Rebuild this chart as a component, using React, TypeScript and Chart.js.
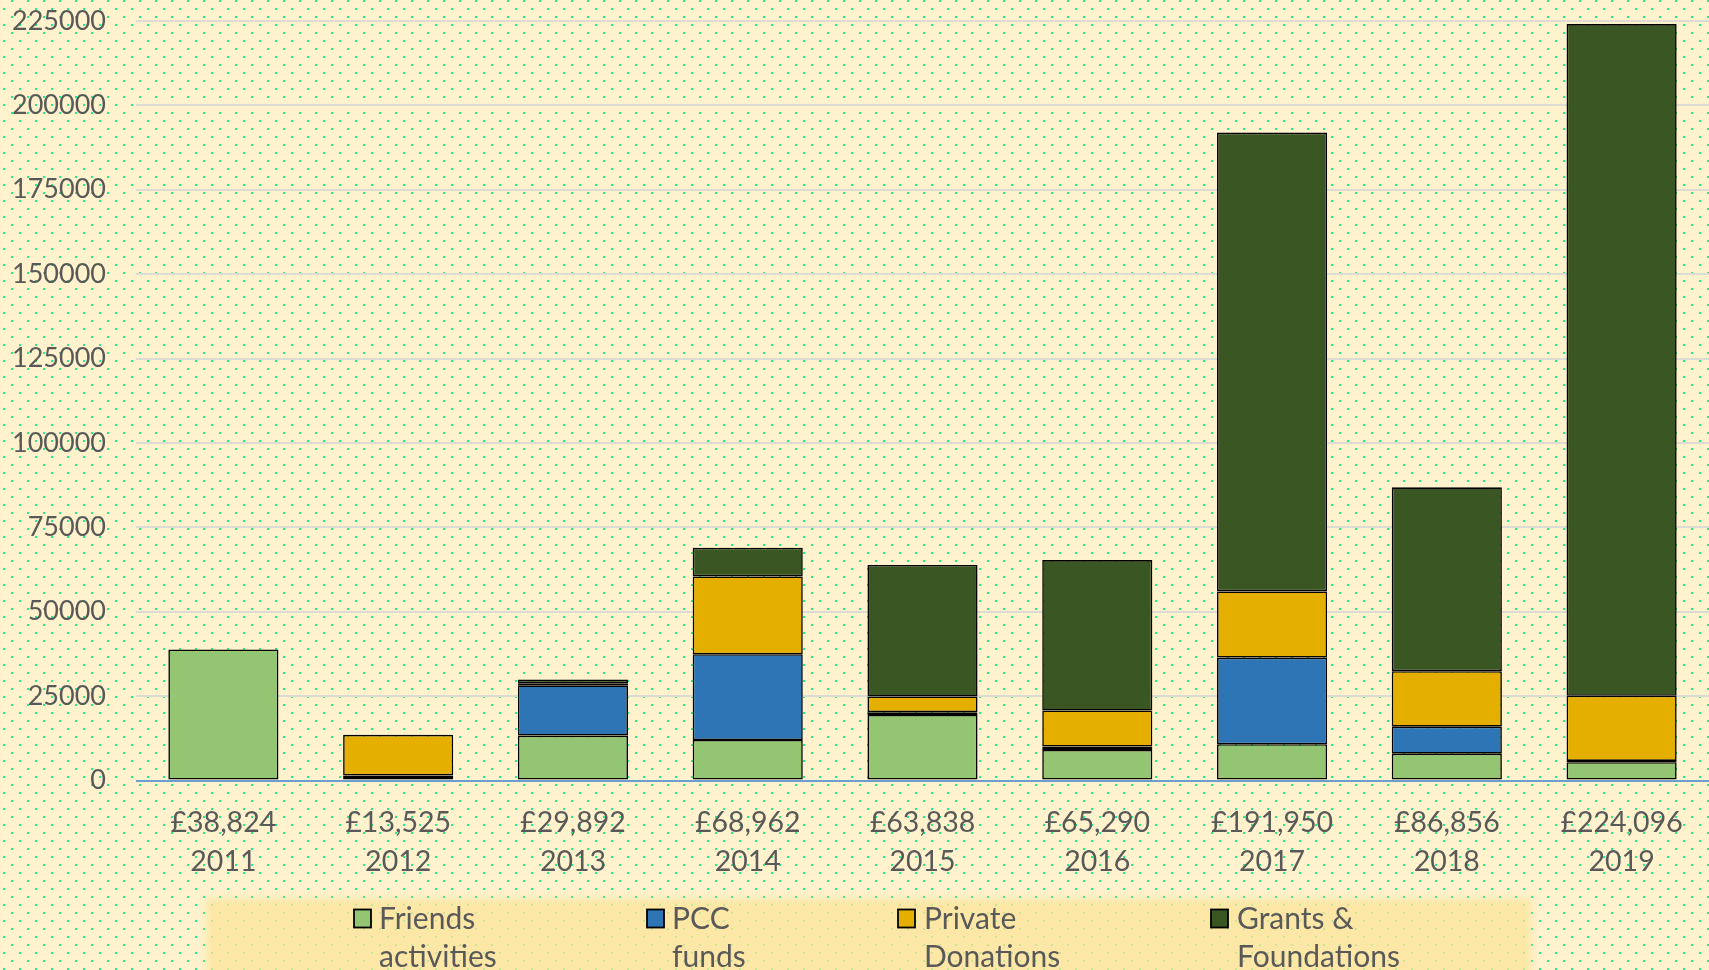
import React, { useEffect, useRef } from 'react';
import { Chart, registerables } from 'chart.js';

Chart.register(...registerables);

// ---- data ----
const years = ['2011', '2012', '2013', '2014', '2015', '2016', '2017', '2018', '2019'];
const totalLabels = ['£38,824', '£13,525', '£29,892', '£68,962', '£63,838', '£65,290', '£191,950', '£86,856', '£224,096'];
const friendsActivities = [38824, 1000, 13300, 12000, 19430, 9050, 10740, 7950, 5400];
const pccFunds = [0, 500, 14900, 25400, 800, 1000, 25690, 8000, 400];
const privateDonations = [0, 12025, 600, 23050, 4650, 10680, 19580, 16430, 19300];
const grantsFoundations = [0, 0, 1092, 8512, 38958, 44560, 135940, 54476, 198996];
const seriesNames = [['Friends', 'activities'], ['PCC', 'funds'], ['Private', 'Donations'], ['Grants &', 'Foundations']];
const seriesColors = ['#93C572', '#2E75B6', '#E5AF00', '#3A5623'];
const yMax = 225000;
const yStep = 25000;

const FONT = 'Lato, "Open Sans", sans-serif';
const TEXT = '#595959';
const W = 1709;
const H = 970;

function makeDotPattern(ctx: CanvasRenderingContext2D, bg: string, dot: string) {
  const c = document.createElement('canvas');
  c.width = 16;
  c.height = 16;
  const g = c.getContext('2d')!;
  g.fillStyle = bg;
  g.fillRect(0, 0, 16, 16);
  g.fillStyle = dot;
  g.fillRect(11, 0, 2, 2);
  g.fillRect(3, 8, 2, 2);
  return ctx.createPattern(c, 'repeat')!;
}

const backgroundPlugin = {
  id: 'dotBackground',
  beforeDraw(chart: any) {
    const ctx = chart.ctx as CanvasRenderingContext2D;
    ctx.save();
    ctx.fillStyle = makeDotPattern(ctx, '#FFF2CC', '#22EE88');
    ctx.fillRect(0, 0, chart.width, chart.height);
    ctx.restore();
  },
};

const legendPlugin = {
  id: 'customLegend',
  afterDraw(chart: any) {
    const ctx = chart.ctx as CanvasRenderingContext2D;
    ctx.save();
    // legend panel
    ctx.filter = 'blur(3px)';
    ctx.fillStyle = 'rgba(251,227,153,0.75)';
    ctx.fillRect(207, 899, 1324, 90);
    ctx.filter = 'none';
    const boxX = [354, 647, 898, 1211];
    const textX = [379, 672, 924, 1237];
    ctx.font = `30px ${FONT}`;
    ctx.textBaseline = 'middle';
    ctx.textAlign = 'left';
    for (let i = 0; i < seriesNames.length; i++) {
      ctx.fillStyle = seriesColors[i];
      ctx.fillRect(boxX[i], 909.5, 17, 18);
      ctx.lineWidth = 1.8;
      ctx.strokeStyle = '#000';
      ctx.strokeRect(boxX[i], 909.5, 17, 18);
      ctx.fillStyle = TEXT;
      seriesNames[i].forEach((line, j) => {
        ctx.fillText(line, textX[i], 919 + j * 38);
      });
    }
    ctx.restore();
  },
};

export default function App() {
  const ref = useRef<HTMLCanvasElement>(null);

  useEffect(() => {
    document.body.style.margin = '0';
    const canvas = ref.current!;
    const datasets = [friendsActivities, pccFunds, privateDonations, grantsFoundations].map((d, i) => ({
      label: seriesNames[i].join(' '),
      data: d,
      backgroundColor: seriesColors[i],
      borderColor: '#000000',
      borderWidth: 1.6,
      borderSkipped: false as const,
      barPercentage: 0.63,
      categoryPercentage: 1,
    }));
    const chart = new Chart(canvas, {
      type: 'bar',
      data: {
        labels: years.map((y, i) => [totalLabels[i], y]),
        datasets,
      },
      options: {
        responsive: false,
        animation: false,
        devicePixelRatio: 1,
        layout: { padding: { top: 21, left: 0, right: 0, bottom: 0 } },
        plugins: {
          legend: { display: false },
          tooltip: { enabled: false },
        },
        scales: {
          x: {
            stacked: true,
            grid: { display: false, drawTicks: false },
            border: { display: false },
            ticks: {
              color: TEXT,
              font: { family: FONT, size: 28.5, lineHeight: 1.37 },
              padding: 22.5,
              maxRotation: 0,
              autoSkip: false,
            },
            afterFit(scale: any) {
              scale.height = 189.5;
              scale.paddingLeft = 0;
              scale.paddingRight = 0;
            },
          },
          y: {
            stacked: true,
            min: 0,
            max: yMax,
            border: { display: false },
            grid: {
              drawTicks: false,
              lineWidth: 2,
              color: (c: any) => (c.tick && c.tick.value === 0 ? '#6A9ED2' : '#DCDCD4'),
            },
            ticks: {
              stepSize: yStep,
              color: TEXT,
              font: { family: FONT, size: 27 },
              padding: 30,
              callback: (v: any) => String(v),
            },
            afterFit(scale: any) {
              scale.width = 136;
              scale.paddingTop = 0;
              scale.paddingBottom = 0;
            },
          },
        },
      },
      plugins: [backgroundPlugin, legendPlugin],
    });
    return () => chart.destroy();
  }, []);

  return (
    <div style={{ width: W, height: H }}>
      <canvas ref={ref} width={W} height={H} style={{ display: 'block', width: W, height: H }} />
    </div>
  );
}
